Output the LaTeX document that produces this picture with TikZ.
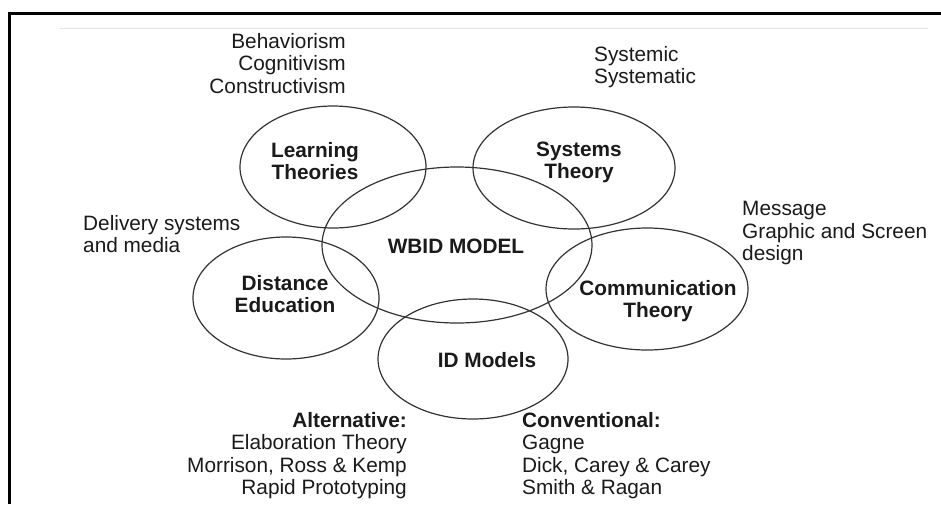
\documentclass[tikz,border=0pt]{standalone}
\usepackage{fontspec}
\setmainfont{Liberation Sans}
\usetikzlibrary{shapes.geometric}
\definecolor{ink}{HTML}{1A1A1A}
\definecolor{ringgrey}{HTML}{333333}
\definecolor{rulegrey}{HTML}{E2E2E2}
\begin{document}
\begin{tikzpicture}[x=1pt,y=-1pt,
  ring/.style={draw=ringgrey, line width=1.2pt, ellipse, inner sep=0pt},
  title/.style={font=\fontsize{20.8}{22}\selectfont\bfseries, align=center, text=ink, inner sep=0pt},
  note/.style={font=\fontsize{20.8}{22.5}\selectfont, text=ink, inner sep=0pt}]
  \useasboundingbox (0,0) rectangle (941,504);
  \fill[white] (0,0) rectangle (941,504);

  % outer frame and thin header rule
  \draw[line width=3pt, black] (9.5,504) -- (9.5,13) -- (941,13);
  \draw[rulegrey, line width=0.8pt] (60,28) -- (928,28);

  % overlapping ellipses
  \node[ring, minimum width=186pt, minimum height=122pt] (lt) at (333,167) {};
  \node[ring, minimum width=202pt, minimum height=122pt] (st) at (574,168) {};
  \node[ring, minimum width=270pt, minimum height=156pt] (wb) at (457,245) {};
  \node[ring, minimum width=186pt, minimum height=122pt] (de) at (286,298) {};
  \node[ring, minimum width=190pt, minimum height=120pt] (id) at (473,359) {};
  \node[ring, minimum width=202pt, minimum height=122pt] (ct) at (647,289) {};

  % ellipse titles
  \node[title] (ltT) at (315,161) {Learning\\Theories};
  \node[title] (stT) at (579,162) {Systems\\Theory};
  \node[title] (wbT) at (456,246) {WBID MODEL};
  \node[title] (deT) at (285,294) {Distance\\Education};
  \node[title] (idT) at (487,360) {ID Models};
  \node[title] (ctT) at (658,301) {Communication\\Theory};

  % surrounding notes
  \node[note, align=right, anchor=north east] (ltN) at (346,33) {Behaviorism\\Cognitivism\\Constructivism};
  \node[note, align=left, anchor=north west] (stN) at (594,46) {Systemic\\Systematic};
  \node[note, align=left, anchor=north west] (ctN) at (742,201) {Message\\Graphic and Screen\\design};
  \node[note, align=left, anchor=north west] (deN) at (83,215) {Delivery systems\\and media};
  \node[note, align=right, anchor=north east] (altN) at (407,412) {\textbf{Alternative:}\\Elaboration Theory\\Morrison, Ross \& Kemp\\Rapid Prototyping};
  \node[note, align=left, anchor=north west] (conN) at (522,412) {\textbf{Conventional:}\\Gagne\\Dick, Carey \& Carey\\Smith \& Ragan};
\end{tikzpicture}
\end{document}
